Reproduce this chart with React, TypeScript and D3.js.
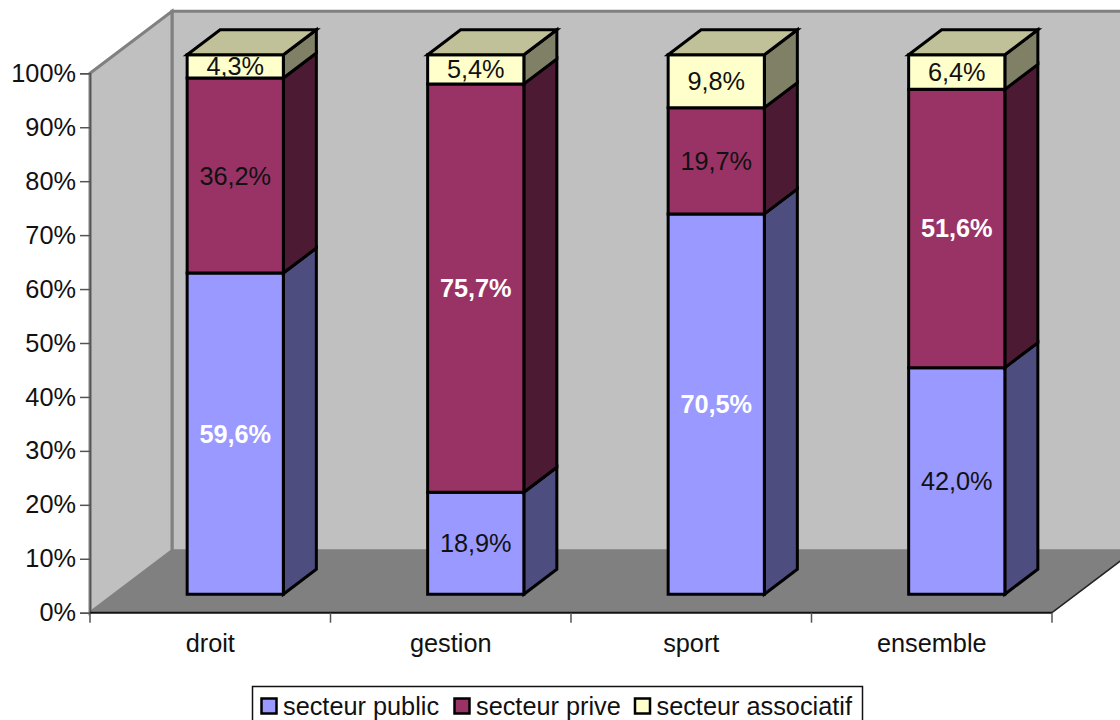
import React, { useEffect, useRef } from 'react';
import * as d3 from 'd3';

const categories = ['droit', 'gestion', 'sport', 'ensemble'];
const seriesNames = ['secteur public', 'secteur prive', 'secteur associatif'];
const secteurPublic = [59.6, 18.9, 70.5, 42.0];
const secteurPrive = [36.2, 75.7, 19.7, 51.6];
const secteurAssociatif = [4.3, 5.4, 9.8, 6.4];
const yTicks = [0, 10, 20, 30, 40, 50, 60, 70, 80, 90, 100];

const seriesValues = [secteurPublic, secteurPrive, secteurAssociatif];
const front = ['#9999ff', '#993366', '#ffffcc'];
const side = ['#4d4d80', '#4d1a33', '#808066'];
const topColor = '#c0c099';

const width = 1120;
const height = 720;
const FONT = '"Liberation Sans", Arial, sans-serif';
const FONT_SIZE = 25.3;

// 3D offsets: whole box depth and bar depth
const boxDx = 82;
const boxDy = 62;
const barDx = 33;
const barDy = 25;

export default function App() {
  const svgRef = useRef<SVGSVGElement>(null);

  useEffect(() => {
    document.body.style.margin = '0';
    if (!svgRef.current) return;
    const svg = d3.select(svgRef.current);
    svg.selectAll('*').remove();

    const x = d3.scaleBand<string>().domain(categories).range([90, 1052]).paddingInner(0.6).paddingOuter(0.3);
    const y = d3.scaleLinear().domain([0, 100]).range([612.7, 73.3]);
    const x0 = x.range()[0];
    const x1 = x.range()[1];
    const y0 = y(0);
    const y100 = y(100);

    const poly = (pts: number[][], fill: string, stroke: string, sw: number) =>
      svg.append('polygon')
        .attr('points', pts.map(p => p.join(',')).join(' '))
        .attr('fill', fill)
        .attr('stroke', stroke)
        .attr('stroke-width', sw)
        .attr('stroke-linejoin', 'miter');

    // walls
    poly([[x0 + boxDx, y100 - boxDy], [x1 + boxDx, y100 - boxDy], [x1 + boxDx, y0 - boxDy], [x0 + boxDx, y0 - boxDy]], '#c0c0c0', '#808080', 3);
    poly([[x0, y100], [x0 + boxDx, y100 - boxDy], [x0 + boxDx, y0 - boxDy], [x0, y0]], '#c0c0c0', '#808080', 3);
    // floor
    poly([[x0, y0], [x0 + boxDx, y0 - boxDy], [x1 + boxDx, y0 - boxDy], [x1, y0]], '#808080', 'none', 0);
    svg.append('line').attr('x1', x1).attr('y1', y0).attr('x2', x1 + boxDx).attr('y2', y0 - boxDy)
      .attr('stroke', '#222').attr('stroke-width', 1.5);

    // axes
    const yAxis = d3.axisLeft(y).tickValues(yTicks).tickSize(10).tickPadding(4).tickFormat(d => `${d}%`);
    const gy = svg.append('g').attr('transform', `translate(${x0},0)`).call(yAxis);
    gy.select('.domain').attr('stroke', '#555').attr('stroke-width', 1.5);
    gy.selectAll('.tick line').attr('stroke', '#555').attr('stroke-width', 1.5);
    gy.selectAll('text').attr('font-size', FONT_SIZE).attr('font-family', FONT).attr('fill', '#111');

    const step = x.step();
    svg.append('line').attr('x1', x0).attr('x2', x1).attr('y1', y0).attr('y2', y0)
      .attr('stroke', '#111').attr('stroke-width', 2);
    d3.range(categories.length + 1).forEach(i => {
      svg.append('line')
        .attr('x1', x0 + i * step).attr('x2', x0 + i * step)
        .attr('y1', y0).attr('y2', y0 + 10)
        .attr('stroke', '#555').attr('stroke-width', 1.5);
    });
    categories.forEach(c => {
      svg.append('text')
        .attr('x', (x(c) as number) + x.bandwidth() / 2)
        .attr('y', 652)
        .attr('text-anchor', 'middle')
        .attr('font-size', FONT_SIZE)
        .attr('font-family', FONT)
        .attr('fill', '#111')
        .text(c);
    });

    // bars, normalised to 100% like the source chart
    const rows = categories.map((c, i) => {
      const row: Record<string, number | string> = { category: c };
      seriesNames.forEach((s, j) => { row[s] = seriesValues[j][i]; });
      return row;
    });
    const stacked = d3.stack<Record<string, number | string>>()
      .keys(seriesNames)
      .offset(d3.stackOffsetExpand)(rows as any);

    const shiftX = (boxDx - barDx) / 2 + 0.5;
    const shiftY = (boxDy - barDy) / 2;
    const outline = '#000';
    const sw = 3;

    categories.forEach((c, i) => {
      const left = (x(c) as number) + shiftX;
      const right = left + x.bandwidth();
      stacked.forEach((layer, j) => {
        const yLow = y(layer[i][0] * 100) - shiftY;
        const yHigh = y(layer[i][1] * 100) - shiftY;
        poly([[right, yLow], [right + barDx, yLow - barDy], [right + barDx, yHigh - barDy], [right, yHigh]], side[j], outline, sw);
        poly([[left, yLow], [right, yLow], [right, yHigh], [left, yHigh]], front[j], outline, sw);
        if (j === stacked.length - 1) {
          poly([[left, yHigh], [left + barDx, yHigh - barDy], [right + barDx, yHigh - barDy], [right, yHigh]], topColor, outline, sw);
        }
      });
      stacked.forEach((layer, j) => {
        const value = seriesValues[j][i];
        const big = value > 50;
        const yLow = y(layer[i][0] * 100) - shiftY;
        const yHigh = y(layer[i][1] * 100) - shiftY;
        svg.append('text')
          .attr('x', (left + right) / 2)
          .attr('y', (yLow + yHigh) / 2 + 9)
          .attr('text-anchor', 'middle')
          .attr('font-size', FONT_SIZE)
          .attr('font-family', FONT)
          .attr('font-weight', big ? 700 : 400)
          .attr('fill', big ? '#fff' : '#111')
          .text(`${value.toFixed(1).replace('.', ',')}%`);
      });
    });

    // legend
    svg.append('rect').attr('x', 252.5).attr('y', 686.5).attr('width', 610).attr('height', 44)
      .attr('fill', '#fff').attr('stroke', '#111').attr('stroke-width', 1.5);
    const legendX = [261.5, 454.5, 635];
    seriesNames.forEach((s, j) => {
      svg.append('rect').attr('x', legendX[j]).attr('y', 698.5).attr('width', 15).attr('height', 15)
        .attr('fill', front[j]).attr('stroke', '#000').attr('stroke-width', 2.5);
      svg.append('text').attr('x', legendX[j] + 21.5).attr('y', 715)
        .attr('font-size', FONT_SIZE).attr('font-family', FONT).attr('fill', '#111').text(s);
    });
  }, []);

  return <svg ref={svgRef} width={width} height={height} style={{ display: 'block', background: '#fff' }} />;
}
